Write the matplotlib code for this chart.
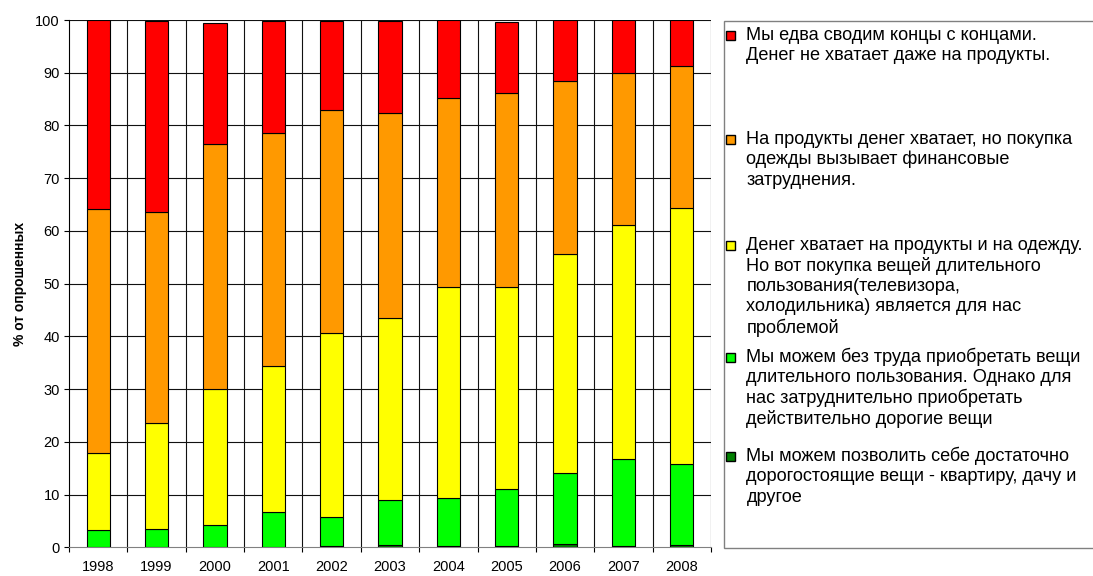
import matplotlib
matplotlib.use("Agg")
import matplotlib.pyplot as plt
from matplotlib.patches import Rectangle
import numpy as np

plt.rcParams['font.family'] = ['Liberation Sans', 'DejaVu Sans']

years = ['1998', '1999', '2000', '2001', '2002', '2003', '2004', '2005', '2006', '2007', '2008']

# Shares of respondents (%), from the bottom of each bar upwards
expensive = [0.0, 0.0, 0.0, 0.0, 0.3, 0.5, 0.2, 0.2, 0.6, 0.2, 0.4]
durables = [3.2, 3.4, 4.2, 6.7, 5.5, 8.5, 9.1, 10.8, 13.4, 16.5, 15.4]
clothes = [14.6, 20.1, 25.8, 27.7, 34.8, 34.5, 40.1, 38.3, 41.6, 44.5, 48.5]
food_only = [46.3, 40.1, 46.4, 44.2, 42.3, 38.8, 35.9, 36.8, 32.8, 28.7, 26.9]
no_money = [35.9, 36.3, 23.1, 21.2, 17.0, 17.6, 14.7, 13.6, 11.6, 10.1, 8.8]

# legend entries, top to bottom
labels = [
    "Мы едва сводим концы с концами.\nДенег не хватает даже на продукты.",
    "На продукты денег хватает, но покупка\nодежды вызывает финансовые\nзатруднения.",
    "Денег хватает на продукты и на одежду.\nНо вот покупка вещей длительного\nпользования(телевизора,\nхолодильника) является для нас\nпроблемой",
    "Мы можем без труда приобретать вещи\nдлительного пользования. Однако для\nнас затруднительно приобретать\nдействительно дорогие вещи",
    "Мы можем позволить себе достаточно\nдорогостоящие вещи - квартиру, дачу и\nдругое",
]

series = [expensive, durables, clothes, food_only, no_money]
colors = ['#008000', '#00FF00', '#FFFF00', '#FF9900', '#FF0000']

W, H = 1093, 576
fig = plt.figure(figsize=(W / 100, H / 100), dpi=100)
ax = fig.add_axes([69 / W, 1 - 547.3 / H, (711 - 69) / W, (547.3 - 20) / H])

x = np.arange(len(years))
bottom = np.zeros(len(years))
for vals, col in zip(series, colors):
    v = np.array(vals)
    ax.bar(x, v, width=0.4, bottom=bottom, color=col, edgecolor='black',
           linewidth=0.8, zorder=3)
    bottom += v

ax.set_xlim(-0.5, len(years) - 0.5)
ax.set_ylim(0, 100)
ax.set_yticks(np.arange(0, 101, 10))
ax.set_xticks(x)
ax.set_xticklabels(years)
ax.set_xticks(np.arange(-0.5, len(years), 1.0), minor=True)

# grid: horizontal at major y ticks, vertical at category boundaries
for yv in np.arange(10, 101, 10):
    ax.axhline(yv, color='#111111', linewidth=0.8, zorder=1)
for xv in np.arange(0.5, len(years), 1.0):
    ax.axvline(xv, color='#111111', linewidth=0.8, zorder=1)

ax.tick_params(axis='x', which='major', length=0, pad=9, labelsize=10.5)
ax.tick_params(axis='x', which='minor', length=3.6, width=0.8, color='black')
ax.tick_params(axis='y', length=3.6, width=0.8, pad=3, labelsize=10.5)
for s in ['top', 'right']:
    ax.spines[s].set_visible(False)
ax.spines['left'].set_color('black')
ax.spines['left'].set_linewidth(0.8)
ax.spines['bottom'].set_color('#808080')
ax.spines['bottom'].set_linewidth(0.8)

ax.set_ylabel('% от опрошенных', fontsize=10, fontweight='bold', labelpad=6)

# legend drawn in pixel coordinates on an overlay
ov = fig.add_axes([0, 0, 1, 1], facecolor='none')
ov.set_xlim(0, W)
ov.set_ylim(H, 0)
ov.axis('off')
ov.add_patch(Rectangle((724, 20.7), 380, 527, facecolor='white',
                       edgecolor='#808080', linewidth=1.0))

first_line_y = [35, 139, 245, 357, 456]
line_step = 20.6
for lab, col, y0 in zip(labels, colors[::-1], first_line_y):
    ov.add_patch(Rectangle((726, y0 - 4.5), 9, 9, facecolor=col,
                           edgecolor='black', linewidth=1.0))
    for i, line in enumerate(lab.split('\n')):
        ov.text(746.5, y0 + i * line_step, line, fontsize=13.1, va='center',
                ha='left', color='black')

fig.savefig('out.png', dpi=100)
